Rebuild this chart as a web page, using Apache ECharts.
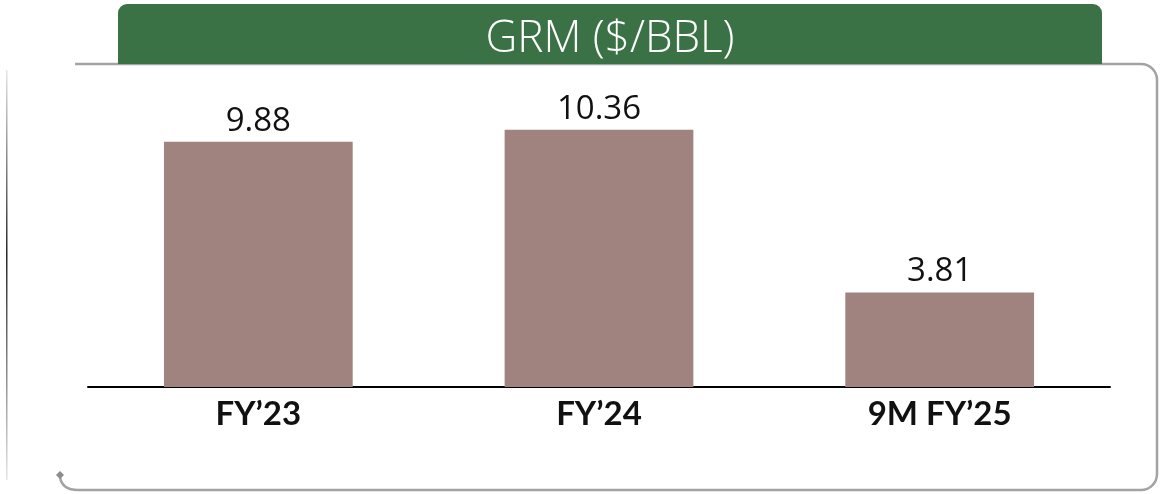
<!DOCTYPE html>
<html>
<head>
<meta charset="utf-8">
<script src="https://cdn.jsdelivr.net/npm/echarts@6/dist/echarts.min.js"></script>
<style>
  html, body { margin: 0; padding: 0; background: #ffffff; }
  #chart { width: 1170px; height: 494px; }
</style>
</head>
<body>
<div id="chart"></div>
<script>
// Gross refining margin by period
const categories = ['FY\u201923', 'FY\u201924', '9M FY\u201925'];
const grmValues = [9.88, 10.36, 3.81];
const chartTitle = 'GRM ($/BBL)';

const chart = echarts.init(document.getElementById('chart'), null, { renderer: 'canvas' });

const frameStyle = { fill: null, stroke: '#a3a3a3', lineWidth: 2.5 };

const option = {
  animation: false,
  backgroundColor: '#ffffff',
  grid: { left: 88, right: 60, top: 89, bottom: 107 },
  xAxis: {
    type: 'category',
    data: categories,
    axisLine: { show: true, lineStyle: { color: '#000000', width: 2 } },
    axisTick: { show: false },
    axisLabel: {
      color: '#111111',
      fontFamily: 'Lato, "Open Sans", sans-serif',
      fontWeight: 'bold',
      fontSize: 33,
      margin: 11
    }
  },
  yAxis: {
    type: 'value',
    min: 0,
    max: 12,
    show: false,
    splitLine: { show: false }
  },
  series: [{
    type: 'bar',
    data: grmValues,
    barWidth: '55.4%',
    itemStyle: { color: '#a0837e' },
    label: {
      show: true,
      position: 'top',
      distance: 4,
      color: '#111111',
      fontFamily: '"Open Sans", "Noto Sans", sans-serif',
      fontSize: 33,
      formatter: p => p.value.toFixed(2)
    }
  }],
  graphic: [
    // faint vertical rule on the far left
    {
      type: 'rect',
      shape: { x: 6, y: 70, width: 1.5, height: 410 },
      style: {
        fill: {
          type: 'linear', x: 0, y: 0, x2: 0, y2: 1,
          colorStops: [
            { offset: 0, color: 'rgba(0,0,0,0.1)' },
            { offset: 0.45, color: 'rgba(0,0,0,0.85)' },
            { offset: 1, color: 'rgba(0,0,0,0.1)' }
          ]
        }
      },
      silent: true
    },
    // panel frame: top edge, right edge, bottom edge and rounded corners
    { type: 'line', shape: { x1: 75, y1: 64, x2: 1141, y2: 64 }, style: frameStyle, silent: true },
    { type: 'arc', shape: { cx: 1141, cy: 80, r: 16, startAngle: -Math.PI / 2, endAngle: 0, clockwise: true }, style: frameStyle, silent: true },
    { type: 'line', shape: { x1: 1157, y1: 80, x2: 1157, y2: 474 }, style: frameStyle, silent: true },
    { type: 'arc', shape: { cx: 1141, cy: 474, r: 16, startAngle: 0, endAngle: Math.PI / 2, clockwise: true }, style: frameStyle, silent: true },
    { type: 'line', shape: { x1: 1141, y1: 490, x2: 78, y2: 490 }, style: frameStyle, silent: true },
    { type: 'bezierCurve', shape: { x1: 78, y1: 490, x2: 60, y2: 477, cpx1: 62, cpy1: 490 }, style: frameStyle, silent: true },
    {
      type: 'polygon',
      shape: { points: [[60, 471], [64, 475], [60, 479], [56, 475]] },
      style: { fill: '#8c8c8c' },
      silent: true
    },
    // title header
    {
      type: 'rect',
      shape: { x: 118, y: 4, width: 984, height: 60, r: [9, 9, 0, 0] },
      style: { fill: '#3a7246' },
      silent: true
    },
    {
      type: 'text',
      x: 610,
      y: 39,
      style: {
        text: chartTitle,
        fill: '#ffffff',
        font: '300 44px "Open Sans", "Noto Sans", sans-serif',
        align: 'center',
        verticalAlign: 'middle'
      },
      silent: true
    }
  ]
};

chart.setOption(option);
</script>
</body>
</html>
